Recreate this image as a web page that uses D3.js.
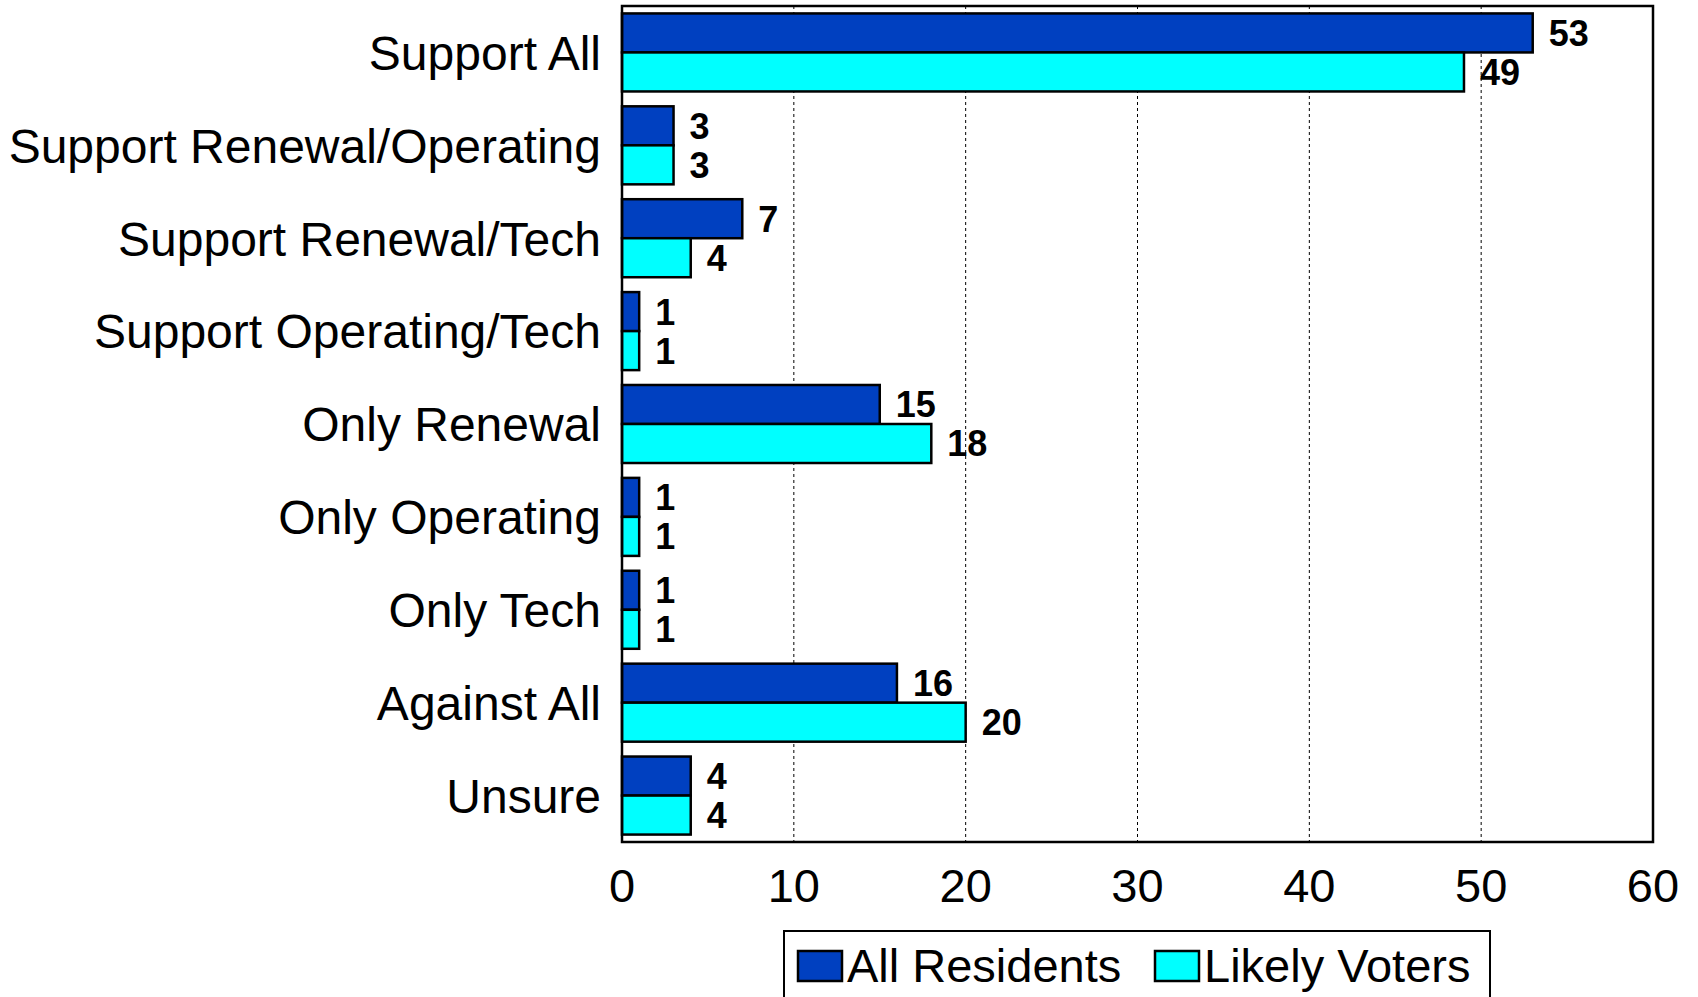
<!DOCTYPE html>
<html>
<head>
<meta charset="utf-8">
<script src="https://cdn.jsdelivr.net/npm/d3@7"></script>
<style>
  body { margin: 0; background: #fff; }
  text { font-family: "Liberation Sans", Arial, sans-serif; }
</style>
</head>
<body>
<div id="chart"></div>
<script>
// data
var categories = ["Support All", "Support Renewal/Operating", "Support Renewal/Tech",
  "Support Operating/Tech", "Only Renewal", "Only Operating", "Only Tech", "Against All", "Unsure"];
var seriesNames = ["All Residents", "Likely Voters"];
var allResidents = [53, 3, 7, 1, 15, 1, 1, 16, 4];
var likelyVoters = [49, 3, 4, 1, 18, 1, 1, 20, 4];
var xTicks = [0, 10, 20, 30, 40, 50, 60];

var colors = ["#0040C0", "#00FFFF"];
var series = [allResidents, likelyVoters];

var W = 1698, H = 997;
var plot = {left: 622, right: 1653, top: 6, bottom: 842};

var svg = d3.select("#chart").append("svg")
  .attr("width", W)
  .attr("height", H);

//scales
var x = d3.scaleLinear().domain([0, 60]).range([plot.left, plot.right]);

var y = d3.scaleBand()
  .domain(categories)
  .range([plot.top, plot.bottom])
  .paddingInner(0.16)
  .paddingOuter(0.08);

var ySub = d3.scaleBand()
  .domain(d3.range(seriesNames.length))
  .range([0, y.bandwidth()]);

//grid lines
svg.append("g").selectAll("line")
  .data(xTicks.filter(function(d) { return d > 0 && d < 60; }))
  .enter().append("line")
  .attr("x1", function(d) { return x(d); })
  .attr("x2", function(d) { return x(d); })
  .attr("y1", plot.top)
  .attr("y2", plot.bottom)
  .attr("stroke", "#000")
  .attr("stroke-width", 1)
  .attr("stroke-dasharray", "3,3");

//bars
var groups = svg.append("g").selectAll("g")
  .data(categories)
  .enter().append("g")
  .attr("transform", function(d) { return "translate(0," + y(d) + ")"; });

groups.selectAll("rect")
  .data(function(d, i) { return series.map(function(s, j) { return {v: s[i], j: j}; }); })
  .enter().append("rect")
  .attr("x", x(0))
  .attr("y", function(d) { return ySub(d.j); })
  .attr("width", function(d) { return x(d.v) - x(0); })
  .attr("height", ySub.bandwidth())
  .attr("fill", function(d) { return colors[d.j]; })
  .attr("stroke", "#000")
  .attr("stroke-width", 2.5);

//value labels
groups.selectAll("text")
  .data(function(d, i) { return series.map(function(s, j) { return {v: s[i], j: j}; }); })
  .enter().append("text")
  .attr("x", function(d) { return x(d.v) + 16; })
  .attr("y", function(d) { return ySub(d.j) + ySub.bandwidth() / 2; })
  .attr("dy", "0.36em")
  .style("font-size", "36px")
  .style("font-weight", "bold")
  .text(function(d) { return d.v; });

//plot frame
svg.append("rect")
  .attr("x", plot.left)
  .attr("y", plot.top)
  .attr("width", plot.right - plot.left)
  .attr("height", plot.bottom - plot.top)
  .attr("fill", "none")
  .attr("stroke", "#000")
  .attr("stroke-width", 2.5);

//category labels
svg.append("g").selectAll("text")
  .data(categories)
  .enter().append("text")
  .attr("x", plot.left - 21)
  .attr("y", function(d) { return y(d) + y.bandwidth() / 2; })
  .attr("dy", "0.36em")
  .attr("text-anchor", "end")
  .style("font-size", "48px")
  .text(function(d) { return d; });

//x axis tick labels
svg.append("g").selectAll("text")
  .data(xTicks)
  .enter().append("text")
  .attr("x", function(d) { return x(d); })
  .attr("y", 902)
  .attr("text-anchor", "middle")
  .style("font-size", "47px")
  .text(function(d) { return d; });

//legend
var legend = svg.append("g");
legend.append("rect")
  .attr("x", 784)
  .attr("y", 931)
  .attr("width", 1490 - 784)
  .attr("height", 100)
  .attr("fill", "#fff")
  .attr("stroke", "#000")
  .attr("stroke-width", 2);

var legendX = [798, 1155];
var items = legend.selectAll("g.item")
  .data(seriesNames)
  .enter().append("g")
  .attr("class", "item")
  .attr("transform", function(d, i) { return "translate(" + legendX[i] + ",951)"; });

items.append("rect")
  .attr("width", 44)
  .attr("height", 30)
  .attr("fill", function(d, i) { return colors[i]; })
  .attr("stroke", "#000")
  .attr("stroke-width", 2.5);

items.append("text")
  .attr("x", 49)
  .attr("y", 31)
  .style("font-size", "47px")
  .text(function(d) { return d; });
</script>
</body>
</html>
